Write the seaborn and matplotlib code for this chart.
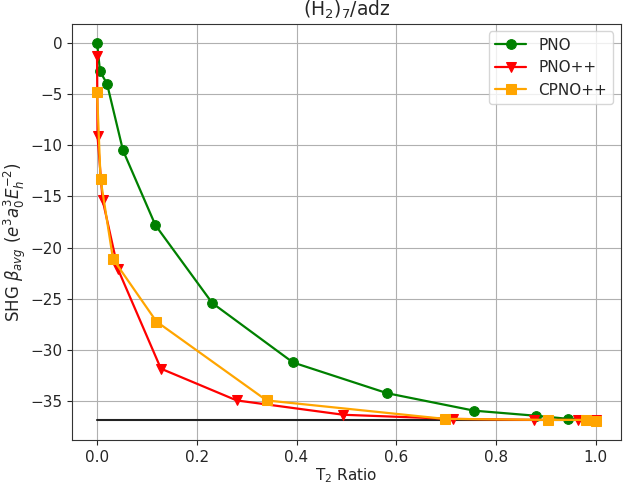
import numpy as np
import pandas as pd
import matplotlib
matplotlib.use("Agg")
import matplotlib.pyplot as plt
import seaborn as sns

# T2 ratio vs SHG beta_avg
pno_x = [0.0, 0.006, 0.020, 0.052, 0.117, 0.231, 0.393, 0.582, 0.756, 0.881, 0.945, 1.0]
pno_y = [0.0, -2.8, -4.0, -10.5, -17.8, -25.4, -31.2, -34.2, -35.9, -36.4, -36.7, -36.8]

pnopp_x = [0.0, 0.001, 0.011, 0.042, 0.128, 0.280, 0.494, 0.713, 0.876, 0.965, 1.0]
pnopp_y = [-1.3, -9.1, -15.3, -22.1, -31.8, -34.9, -36.3, -36.7, -36.8, -36.8, -36.8]

cpno_x = [0.0, 0.007, 0.032, 0.119, 0.340, 0.697, 0.905, 0.98, 1.0]
cpno_y = [-4.8, -13.3, -21.1, -27.2, -34.9, -36.7, -36.8, -36.8, -36.9]

ref_value = -36.8

sns.set_style("ticks", {"axes.grid": True, "grid.color": "#b0b0b0",
                        "axes.edgecolor": "#333333", "xtick.direction": "out",
                        "ytick.direction": "out"})
plt.rcParams["font.family"] = ["DejaVu Sans"]
plt.rcParams["font.size"] = 11

fig, ax = plt.subplots(figsize=(6.27, 4.86), dpi=100)
fig.subplots_adjust(left=0.115, right=0.990, top=0.951, bottom=0.095)

series = [
    (pno_x, pno_y, "PNO", "green", "o"),
    (pnopp_x, pnopp_y, "PNO++", "red", "v"),
    (cpno_x, cpno_y, "CPNO++", "orange", "s"),
]
for xs, ys, name, col, mk in series:
    df = pd.DataFrame({"x": xs, "y": ys})
    sns.lineplot(data=df, x="x", y="y", ax=ax, color=col, marker=mk,
                 markersize=7, markeredgecolor=col, linewidth=1.6,
                 label=name, estimator=None, sort=False)

ax.plot([0.0, 1.0], [ref_value, ref_value], color="#222222", linewidth=1.5, zorder=1)

ax.set_title("(H$_2$)$_7$/adz", fontsize=13.5)
ax.set_xlabel("T$_2$ Ratio", labelpad=1)
ax.set_ylabel(r"SHG $\beta_{avg}$ ($e^3a_0^3E_h^{-2}$)", fontsize=12)
ax.yaxis.set_label_coords(-0.08, 0.475)
ax.legend(loc="upper right", fontsize=11)
ax.tick_params(labelsize=11)

plt.savefig("out.png", dpi=100)
